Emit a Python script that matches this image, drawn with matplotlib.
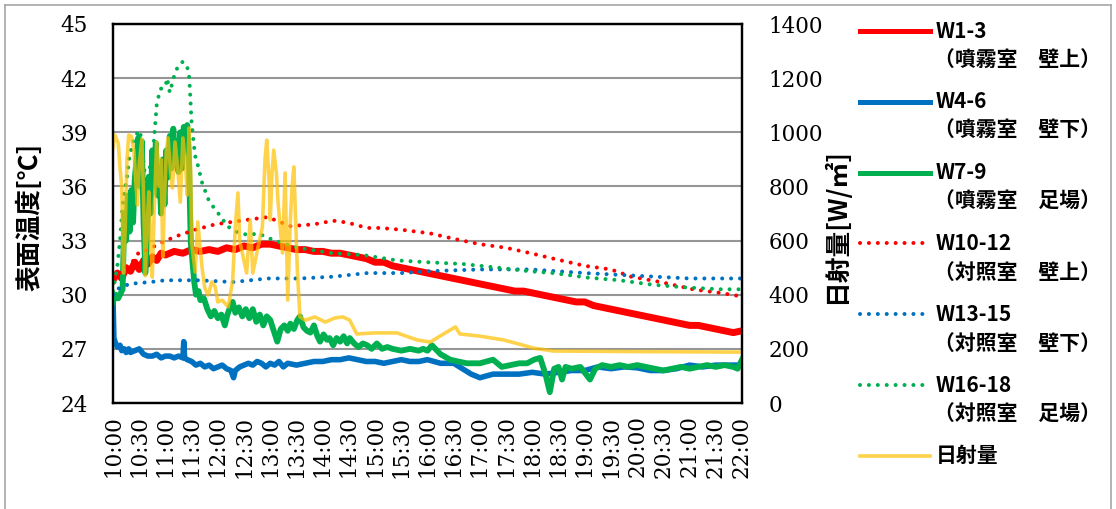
import numpy as np
import matplotlib.pyplot as plt
from matplotlib.lines import Line2D

plt.rcParams['font.family'] = ['Noto Sans CJK JP', 'DejaVu Sans']

# time axis: minutes after 10:00
w1_3_min = [0, 5, 10, 15, 20, 25, 30, 35, 40, 45, 50, 55, 60, 70, 80, 90, 100, 110, 120,
            130, 140, 150, 160, 170, 180, 190, 200, 210, 220, 230, 240, 250, 260, 270, 280,
            290, 300, 310, 320, 330, 340, 350, 360, 370, 380, 390, 400, 410, 420, 430, 440,
            450, 460, 470, 480, 490, 500, 510, 520, 530, 540, 550, 560, 570, 580, 590, 600,
            610, 620, 630, 640, 650, 660, 670, 680, 690, 700, 710, 720]
w1_3_val = [30.8, 31.2, 30.9, 31.5, 31.3, 31.8, 31.4, 31.9, 31.7, 32.1, 31.9, 32.3, 32.2, 32.4,
            32.3, 32.5, 32.4, 32.5, 32.4, 32.6, 32.5, 32.7, 32.6, 32.8, 32.8, 32.7, 32.6, 32.5,
            32.5, 32.4, 32.4, 32.3, 32.3, 32.2, 32.1, 32.0, 31.8, 31.8, 31.6, 31.5, 31.4, 31.3,
            31.2, 31.1, 31.0, 30.9, 30.8, 30.7, 30.6, 30.5, 30.4, 30.3, 30.2, 30.2, 30.1, 30.0,
            29.9, 29.8, 29.7, 29.6, 29.6, 29.4, 29.3, 29.2, 29.1, 29.0, 28.9, 28.8, 28.7, 28.6,
            28.5, 28.4, 28.3, 28.3, 28.2, 28.1, 28.0, 27.9, 28.0]

w4_6_min = [0, 1, 3, 5, 8, 10, 13, 15, 18, 20, 25, 30, 35, 40, 45, 50, 55, 60, 65, 70, 75,
            80, 81, 82, 85, 90, 95, 100, 105, 110, 115, 120, 125, 130, 135, 138, 140, 145,
            150, 155, 160, 165, 170, 175, 180, 185, 190, 195, 200, 210, 220, 230, 240, 250,
            260, 270, 280, 290, 300, 310, 320, 330, 340, 350, 360, 375, 390, 400, 410, 420,
            435, 450, 465, 480, 495, 510, 525, 540, 555, 570, 585, 600, 615, 630, 645, 660,
            675, 690, 705, 720]
w4_6_val = [29.8, 27.6, 27.3, 27.1, 27.2, 26.9, 27.0, 26.8, 27.0, 26.8, 26.9, 27.0, 26.7,
            26.6, 26.6, 26.7, 26.5, 26.6, 26.6, 26.5, 26.6, 26.5, 27.4, 26.5, 26.4, 26.3,
            26.1, 26.2, 26.0, 26.1, 25.9, 26.0, 26.1, 25.9, 25.8, 25.4, 25.8, 26.0, 26.1,
            26.2, 26.1, 26.3, 26.2, 26.0, 26.2, 26.1, 26.3, 26.0, 26.2, 26.1, 26.2, 26.3,
            26.3, 26.4, 26.4, 26.5, 26.4, 26.3, 26.3, 26.2, 26.3, 26.4, 26.3, 26.3, 26.4,
            26.2, 26.2, 25.9, 25.6, 25.4, 25.6, 25.6, 25.6, 25.7, 25.6, 25.7, 25.8, 25.8,
            26.0, 25.9, 26.0, 25.95, 25.8, 25.8, 25.9, 26.1, 26.0, 26.1, 26.1, 26.1]

w7_9_min = [0, 3, 6, 9, 11, 13, 15, 17, 19, 21, 23, 25, 27, 29, 31, 33, 35, 37, 39, 41, 43,
            45, 47, 49, 51, 53, 55, 57, 59, 61, 63, 65, 67, 69, 71, 73, 75, 77, 79, 81, 83,
            85, 87, 88, 89, 91, 93, 95, 98, 100, 104, 108, 112, 116, 120, 124, 128, 131, 134,
            137, 140, 144, 148, 152, 156, 160, 164, 168, 172, 176, 180, 184, 188, 192, 196,
            200, 203, 207, 211, 214, 218, 222, 226, 230, 234, 237, 241, 245, 248, 252, 256,
            260, 264, 268, 271, 276, 281, 286, 291, 296, 302, 308, 314, 320, 330, 340, 350,
            355, 360, 365, 375, 386, 395, 405, 420, 435, 445, 455, 465, 474, 482, 489, 495,
            500, 505, 510, 514, 518, 525, 535, 546, 552, 560, 570, 580, 590, 600, 610, 620,
            630, 640, 650, 660, 670, 680, 690, 700, 710, 715, 720]
w7_9_val = [29.6, 30.0, 29.8, 30.1, 30.3, 34.5, 33.0, 35.5, 33.5, 35.8, 34.0, 36.5, 37.5,
            38.7, 36.0, 38.5, 34.0, 31.2, 33.0, 36.5, 34.5, 38.0, 36.0, 38.4, 35.5, 37.0,
            34.5, 37.5, 35.0, 38.0, 36.5, 38.8, 37.0, 39.2, 37.5, 38.5, 36.8, 39.0, 37.0,
            39.3, 38.0, 39.4, 37.5, 35.0, 32.9, 31.8, 30.7, 30.0, 30.2, 29.7, 29.8, 29.2,
            28.8, 29.1, 28.7, 28.9, 28.3, 28.9, 29.3, 29.6, 29.0, 29.3, 28.8, 29.2, 28.7,
            29.2, 28.5, 28.9, 28.3, 28.8, 28.6, 28.0, 27.4, 28.1, 28.3, 28.0, 28.4, 28.1,
            28.6, 28.8, 28.2, 28.0, 27.9, 28.3, 27.7, 27.4, 27.8, 27.5, 27.6, 27.2, 27.6,
            27.4, 27.7, 27.3, 27.6, 27.3, 27.1, 27.3, 27.2, 27.0, 27.3, 27.0, 27.1, 27.0,
            26.9, 27.0, 26.9, 27.0, 26.9, 27.2, 26.7, 26.4, 26.3, 26.2, 26.2, 26.4, 26.0,
            26.1, 26.2, 26.2, 26.4, 26.5, 25.6, 24.6, 25.9, 26.0, 25.3, 26.0, 25.9, 26.0,
            25.3, 25.9, 26.1, 26.0, 26.1, 26.0, 26.1, 26.0, 25.9, 25.8, 25.9, 26.0, 25.9,
            26.0, 26.1, 26.0, 26.1, 26.0, 25.9, 26.4]

w10_12_min = [0, 10, 22, 29, 40, 52, 70, 94, 117, 146, 177, 203, 230, 252, 268, 291, 306,
              330, 363, 390, 420, 450, 478, 504, 540, 570, 593, 627, 664, 695, 720]
w10_12_val = [30.9, 31.3, 31.8, 32.3, 32.5, 32.8, 33.2, 33.6, 33.9, 34.1, 34.3, 33.8, 33.9,
              34.1, 34.0, 33.7, 33.7, 33.6, 33.4, 33.1, 32.8, 32.6, 32.3, 32.0, 31.6, 31.4,
              31.0, 30.7, 30.3, 30.1, 29.9]

w13_15_min = [0, 4, 19, 42, 60, 100, 137, 177, 214, 252, 291, 330, 360, 420, 478, 540, 600,
              660, 720]
w13_15_val = [30.0, 30.3, 30.6, 30.7, 30.8, 30.8, 30.7, 30.9, 30.9, 31.0, 31.2, 31.2, 31.3,
              31.4, 31.4, 31.2, 31.05, 30.9, 30.9]

w16_18_min = [0, 5, 8, 11, 16, 19, 25, 31, 34, 38, 42, 46, 50, 54, 60, 62, 65, 71, 74, 79,
              84, 87, 88, 90, 94, 97, 102, 109, 117, 126, 128, 140, 155, 166, 185, 212, 251,
              286, 325, 360, 401, 440, 477, 504, 543, 580, 618, 657, 695, 720]
w16_18_val = [30.2, 31.6, 33.0, 35.0, 36.5, 37.7, 38.8, 39.1, 37.7, 36.0, 37.0, 38.0, 40.5,
              41.4, 41.5, 42.0, 41.2, 42.3, 42.6, 42.9, 42.8, 42.2, 41.4, 39.5, 37.7, 37.2,
              36.2, 35.3, 34.7, 34.2, 33.9, 33.5, 33.3, 33.4, 33.0, 32.6, 32.3, 32.2, 31.9,
              31.8, 31.7, 31.5, 31.3, 31.2, 30.95, 30.8, 30.55, 30.4, 30.3, 30.3]

# solar radiation [W/m2]
sun_min = [0, 2, 4, 6, 8, 10, 12, 14, 16, 18, 21, 24, 26, 28, 30, 33, 35, 37, 39, 41, 43, 45,
           47, 50, 53, 55, 57, 59, 61, 63, 66, 68, 71, 74, 77, 80, 83, 85, 87, 89, 90, 94, 97,
           102, 105, 109, 113, 117, 120, 125, 132, 137, 140, 143, 145, 148, 153, 157, 160,
           166, 171, 174, 176, 179, 180, 182, 184, 187, 189, 194, 197, 200, 203, 205, 207,
           211, 214, 220, 231, 243, 254, 263, 271, 279, 300, 325, 348, 363, 382, 392, 397,
           420, 447, 469, 481, 504, 600, 720]
sun_val = [942, 990, 975, 960, 870, 800, 480, 650, 900, 990, 985, 930, 820, 731, 880, 975,
           760, 470, 650, 780, 600, 465, 700, 964, 800, 900, 540, 760, 930, 979, 850, 794,
           964, 870, 742, 979, 880, 768, 1016, 850, 595, 484, 669, 499, 425, 399, 447, 429,
           373, 380, 355, 454, 650, 776, 600, 554, 480, 676, 480, 576, 650, 900, 971, 800,
           676, 850, 934, 850, 739, 554, 850, 380, 676, 800, 872, 491, 318, 306, 318, 299,
           314, 318, 306, 255, 259, 259, 233, 225, 262, 281, 255, 247, 233, 214, 203, 192,
           190, 188]

# (minutes, values, label, sub label, colour, line width, dotted?)
temp_series = [
    (w1_3_min, w1_3_val, 'W1-3', '（噴霧室　壁上）', '#FF0000', 5.0, False),
    (w4_6_min, w4_6_val, 'W4-6', '（噴霧室　壁下）', '#0070C0', 4.0, False),
    (w7_9_min, w7_9_val, 'W7-9', '（噴霧室　足場）', '#00B050', 4.2, False),
    (w10_12_min, w10_12_val, 'W10-12', '（対照室　壁上）', '#FF0000', 2.9, True),
    (w13_15_min, w13_15_val, 'W13-15', '（対照室　壁下）', '#0070C0', 2.9, True),
    (w16_18_min, w16_18_val, 'W16-18', '（対照室　足場）', '#00B050', 2.9, True),
]
dot_pattern = (0.01, 2.2)


def hours(m):
    return 10 + np.asarray(m) / 60.0


def line_style(col, lw, dotted, alpha=1.0):
    kw = dict(color=col, lw=lw, alpha=alpha, solid_joinstyle='round')
    if dotted:
        kw.update(dashes=dot_pattern, dash_capstyle='round')
    return kw


fig = plt.figure(figsize=(11.16, 5.09), dpi=100)
ax = fig.add_axes([113 / 1116, 1 - 403 / 509, 629 / 1116, 379 / 509])
ax2 = ax.twinx()

legend_items = []
for mins, vals, name, sub, col, lw, dotted in temp_series:
    st = line_style(col, lw, dotted)
    ax.plot(hours(mins), vals, zorder=4 if dotted else 3, **st)
    legend_items.append((line_style(col, min(lw, 3.6), dotted), name, sub))

sun_st = line_style('#FFC000', 2.6, False, alpha=0.7)
ax2.plot(hours(sun_min), sun_val, **sun_st)
legend_items.append((sun_st, '日射量', None))
ax.set_zorder(1)
ax2.set_zorder(2)
ax2.patch.set_visible(False)

serif = 'DejaVu Serif'
tfs = 15.5

ax.set_xlim(10, 22)
ax.set_ylim(24, 45)
ax2.set_ylim(0, 1400)
xt = np.arange(10, 22.01, 0.5)
ax.set_xticks(xt)
ax.set_xticklabels(['%d:%02d' % (int(t), round((t % 1) * 60)) for t in xt],
                   rotation=90, family=serif, fontsize=tfs)
ax.set_xticks(np.arange(10, 23, 1), minor=True)
ax.set_yticks(np.arange(24, 46, 3))
ax.set_yticklabels([str(v) for v in range(24, 46, 3)], family=serif, fontsize=tfs)
ax2.set_yticks(np.arange(0, 1401, 200))
ax2.set_yticklabels([str(v) for v in range(0, 1401, 200)], family=serif, fontsize=tfs)

ax.tick_params(axis='x', which='both', length=0, pad=9)
ax.tick_params(axis='y', length=0, pad=18)
ax2.tick_params(axis='y', length=0, pad=19)

ax.grid(axis='x', which='minor', color='#969696', lw=1.5)
ax.grid(axis='y', which='major', color='#969696', lw=1.5)
ax.set_axisbelow(True)
for a in (ax, ax2):
    for s in a.spines.values():
        s.set_linewidth(1.6)
        s.set_color('black')

ax.set_ylabel('表面温度[℃]', fontsize=18.5, fontweight='bold')
ax.yaxis.set_label_coords(-0.111, 0.49)
ax2.set_ylabel('日射量[W/㎡]', fontsize=18.5, fontweight='bold')
ax2.yaxis.set_label_coords(1.129, 0.467)

# legend on the right, one block per series
W, H = 1116, 509
for i, (st, name, sub) in enumerate(legend_items):
    yc = 31 + i * 70.8
    fig.add_artist(Line2D([860 / W, 930 / W], [1 - yc / H, 1 - yc / H], **st))
    fig.text(936 / W, 1 - yc / H, name, fontsize=15, fontweight='bold', va='center')
    if sub:
        fig.text(934 / W, 1 - (yc + 29) / H, sub, fontsize=15, fontweight='bold',
                 va='center')

# chart area frame
for xs, ys in (([5, 5], [5, 515]), ([5, 1111], [5, 5]), ([1111, 1111], [5, 515])):
    fig.add_artist(Line2D(np.array(xs) / W, 1 - np.array(ys) / H, color='#A6A6A6', lw=1.2))

fig.savefig('out.png', dpi=100)
